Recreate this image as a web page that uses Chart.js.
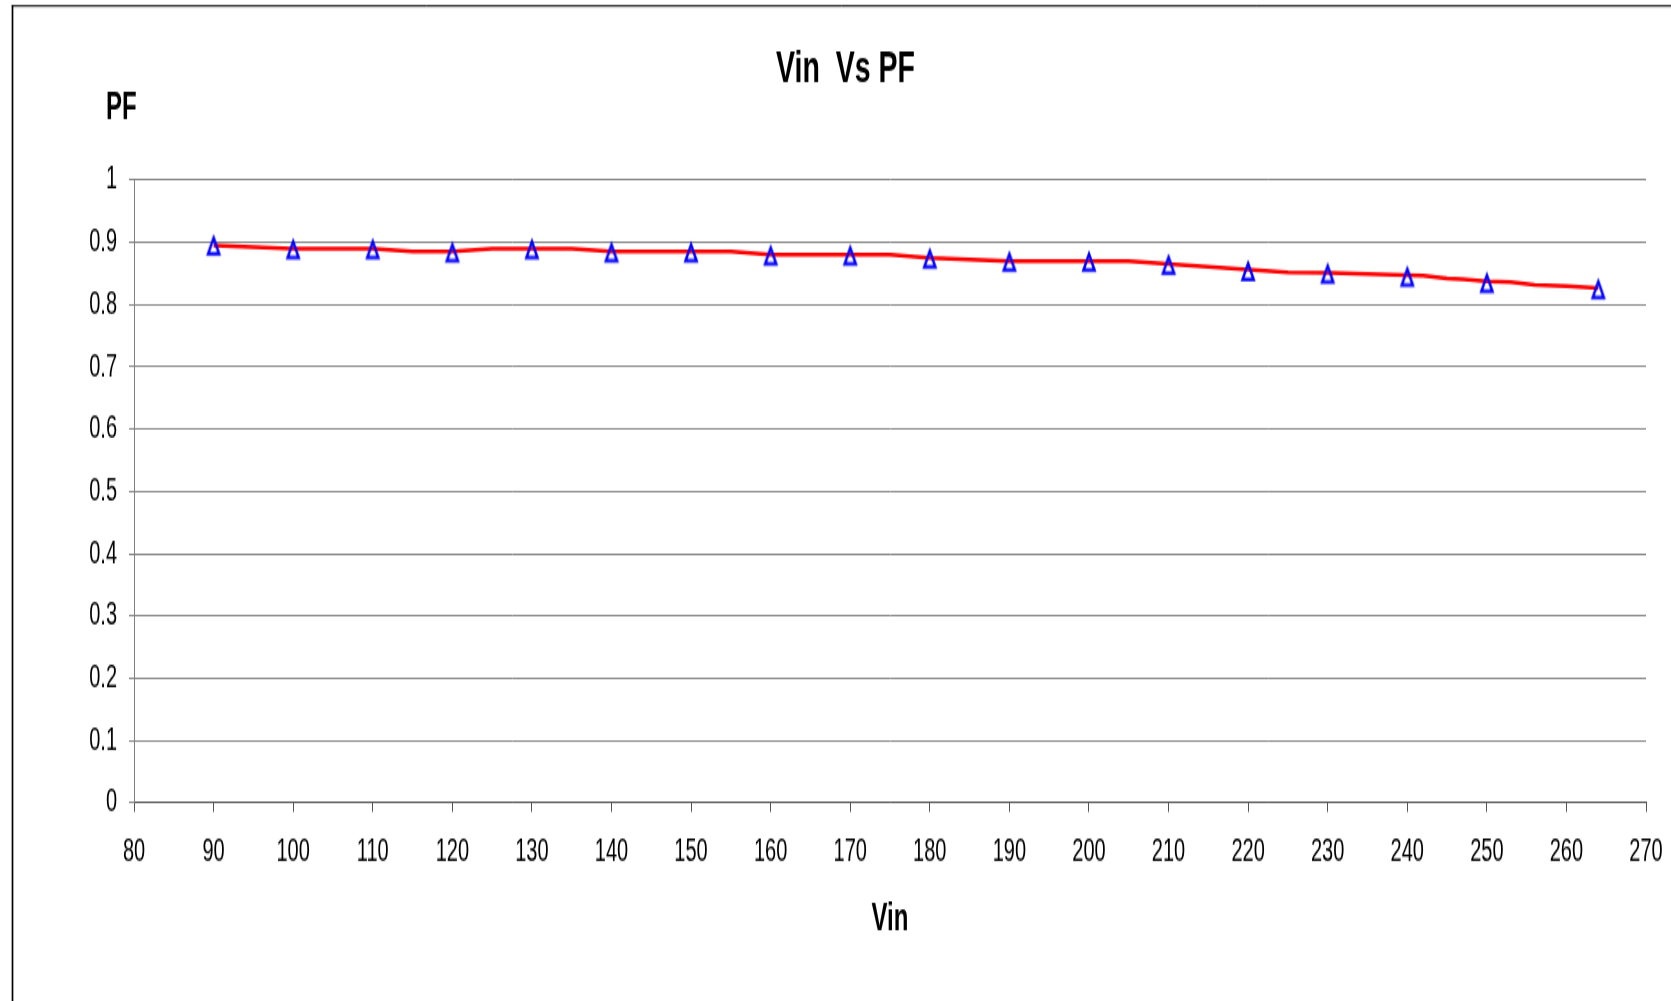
<!DOCTYPE html>
<html>
<head>
<meta charset="utf-8">
<title>Vin Vs PF</title>
<script src="https://cdn.jsdelivr.net/npm/chart.js@4.4.1/dist/chart.umd.min.js"></script>
<style>
  html, body { margin: 0; padding: 0; background: #fff; overflow: hidden; }
  #wrap { width: 1671px; height: 1001px; overflow: hidden; }
  /* the original picture is stretched vertically, so the canvas is too */
  #pfChart { display: block; transform: scaleY(1.6093); transform-origin: 0 0; }
</style>
</head>
<body>
<div id="wrap"><canvas id="pfChart" width="1671" height="622"></canvas></div>
<script>
// marker points (blue triangles)
const markerVin = [90, 100, 110, 120, 130, 140, 150, 160, 170, 180, 190, 200, 210, 220, 230, 240, 250, 264];
const markerPF  = [0.896, 0.89, 0.89, 0.885, 0.89, 0.885, 0.885, 0.88, 0.88, 0.875, 0.87, 0.87, 0.865, 0.855, 0.851, 0.846, 0.836, 0.826];

// red line points
const lineVin = [90, 100, 110, 115, 120, 125, 135, 140, 155, 160, 175, 180, 190, 205, 225, 230, 240, 242, 245, 247, 250, 253, 256, 260, 264];
const linePF  = [0.895, 0.89, 0.89, 0.885, 0.885, 0.89, 0.89, 0.885, 0.885, 0.88, 0.88, 0.875, 0.87, 0.87, 0.852, 0.851, 0.8475, 0.8465, 0.842, 0.841, 0.8375, 0.836, 0.8315, 0.83, 0.8265];

const yTickLabels = ['0', '0.1', '0.2', '0.3', '0.4', '0.5', '0.6', '0.7', '0.8', '0.9', '1'];
const chartTitle = 'Vin  Vs PF';
const xAxisTitle = 'Vin';
const yAxisTitle = 'PF';

const FONT = "'Liberation Sans', Arial, sans-serif";

function toPoints(xs, ys) {
    return xs.map((x, i) => ({ x: x, y: ys[i] }));
}

// hollow blue triangle used as marker
function makeTriangle() {
    const c = document.createElement('canvas');
    c.width = 18;
    c.height = 18;
    const g = c.getContext('2d');
    g.strokeStyle = '#0000ff';
    g.lineWidth = 2.4;
    g.lineJoin = 'miter';
    g.beginPath();
    g.moveTo(9, 4.65);
    g.lineTo(14.5, 14.65);
    g.lineTo(3.5, 14.65);
    g.closePath();
    g.stroke();
    return c;
}

// outer frame, chart title and the horizontal "PF" label
const frameAndTitles = {
    id: 'frameAndTitles',
    afterDraw(chart) {
        const ctx = chart.ctx;
        ctx.save();
        ctx.strokeStyle = '#000';
        ctx.lineWidth = 1.7;
        ctx.beginPath();
        ctx.moveTo(12.5, chart.height + 2);
        ctx.lineTo(12.5, 3.2);
        ctx.stroke();
        ctx.lineWidth = 1;
        ctx.beginPath();
        ctx.moveTo(11.7, 3.7);
        ctx.lineTo(chart.width + 2, 3.7);
        ctx.stroke();

        ctx.fillStyle = '#000';
        ctx.textBaseline = 'alphabetic';
        ctx.textAlign = 'center';
        ctx.font = 'bold 28.5px ' + FONT;
        ctx.fillText(chartTitle, 845.5, 51.4);
        ctx.textAlign = 'left';
        ctx.font = 'bold 24px ' + FONT;
        ctx.fillText(yAxisTitle, 106, 73.8);
        ctx.restore();
    }
};

const ctx = document.getElementById('pfChart').getContext('2d');
window.pfChart = new Chart(ctx, {
    type: 'scatter',
    data: {
        datasets: [
            {
                label: 'PF points',
                data: toPoints(markerVin, markerPF),
                pointStyle: makeTriangle(),
                pointRadius: 9,
                showLine: false
            },
            {
                label: 'PF',
                data: toPoints(lineVin, linePF),
                showLine: true,
                borderColor: '#ff0000',
                borderWidth: 2.5,
                pointRadius: 0,
                tension: 0,
                fill: false
            }
        ]
    },
    options: {
        responsive: false,
        animation: false,
        devicePixelRatio: 1,
        layout: {
            padding: { top: 111.85, right: 25, bottom: 0, left: 0 }
        },
        plugins: {
            legend: { display: false },
            tooltip: { enabled: false },
            title: { display: false }
        },
        scales: {
            x: {
                type: 'linear',
                min: 80,
                max: 270,
                afterFit: function (scale) {
                    scale.height = 123.03;
                    scale.paddingLeft = 0;
                    scale.paddingRight = 0;
                },
                border: { color: '#555', width: 1 },
                grid: { drawOnChartArea: false, tickLength: 5.6, color: '#555' },
                ticks: {
                    stepSize: 10,
                    padding: 12.5,
                    color: '#000',
                    maxRotation: 0,
                    font: { family: FONT, size: 20 }
                },
                title: {
                    display: true,
                    text: xAxisTitle,
                    color: '#000',
                    font: { family: FONT, size: 24, weight: 'bold' },
                    padding: { top: 0, bottom: 36.3 }
                }
            },
            y: {
                type: 'linear',
                min: 0,
                max: 1,
                afterFit: function (scale) { scale.width = 134; },
                border: { color: '#808080', width: 1 },
                grid: { color: '#8a8a8a', tickLength: 5 },
                ticks: {
                    stepSize: 0.1,
                    padding: 12,
                    color: '#000',
                    font: { family: FONT, size: 20 },
                    callback: function (value) {
                        return yTickLabels[Math.round(value * 10)];
                    }
                }
            }
        }
    },
    plugins: [frameAndTitles]
});
</script>
</body>
</html>
